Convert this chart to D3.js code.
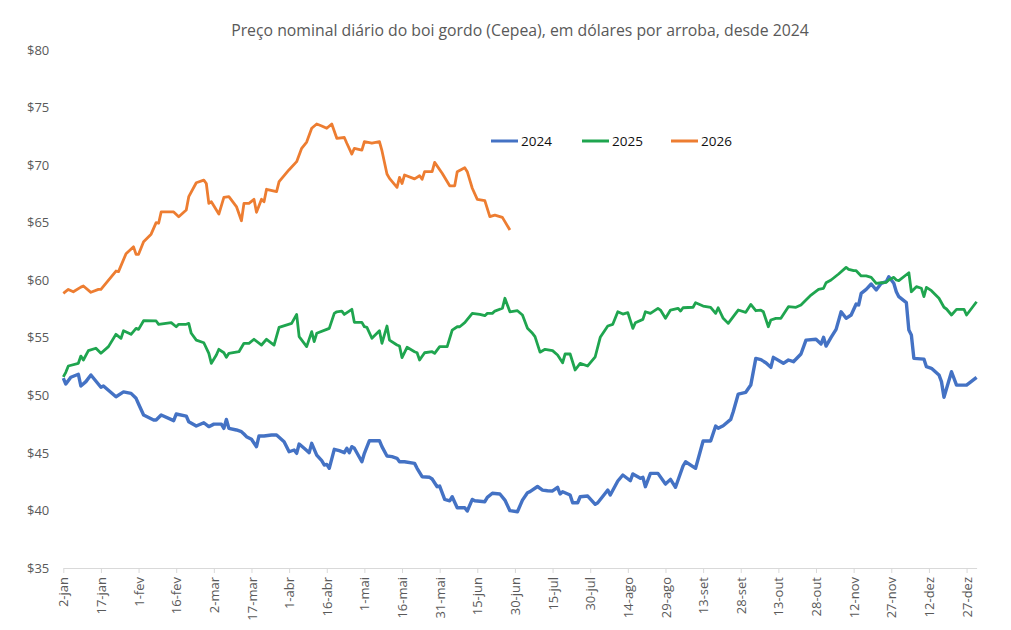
<!DOCTYPE html>
<html><head><meta charset="utf-8">
<script src="https://cdn.jsdelivr.net/npm/d3@7"></script>
<style>body{margin:0;background:#fff} svg{display:block}</style>
</head><body><svg id="c" width="1011" height="630"></svg>
<script>
const titulo = "Preço nominal diário do boi gordo (Cepea), em dólares por arroba, desde 2024";
const rotulosX = ["2-jan","17-jan","1-fev","16-fev","2-mar","17-mar","1-abr","16-abr","1-mai","16-mai","31-mai","15-jun","30-jun","15-jul","30-jul","14-ago","29-ago","13-set","28-set","13-out","28-out","12-nov","27-nov","12-dez","27-dez"];
const ticksY = [35,40,45,50,55,60,65,70,75,80];
const anos = ["2024","2025","2026"];
const cores = ["#4472C4","#1FA54F","#ED7D31"];

// dia = dias desde 2-jan
const dias2024 = [0,1,3,6,7,9,11,15,16,21,24,27,29,30,32,36,37,39,44,45,49,50,53,56,58,60,63,64,65,66,69,71,72,73,75,77,78,80,83,85,88,90,92,93,94,96,98,99,101,103,104,105,106,108,110,112,113,114,115,116,119,120,122,126,127,129,131,133,134,136,140,141,143,146,147,149,150,152,154,155,157,160,161,163,164,168,169,171,174,176,178,181,183,185,186,189,191,193,195,197,198,199,202,203,205,206,209,212,213,216,217,218,221,223,226,227,230,231,232,234,237,240,242,244,247,248,252,255,258,260,261,263,266,267,269,272,274,276,278,280,282,283,287,289,291,294,296,300,302,303,304,306,308,310,312,314,316,317,318,320,322,324,326,328,329,331,332,333,336,337,338,339,343,344,346,349,350,351,354,356,360,364];
const precos2024 = [51.5,50.98,51.57,51.83,50.81,51.19,51.77,50.7,50.81,49.88,50.3,50.17,49.74,49.25,48.29,47.86,47.86,48.29,47.8,48.38,48.2,47.71,47.33,47.62,47.28,47.5,47.5,47.13,47.91,47.13,46.99,46.84,46.64,46.41,46.18,45.54,46.47,46.47,46.55,46.55,45.97,45.1,45.25,44.96,45.77,45.4,45.02,45.83,44.81,44.32,43.95,44.0,43.66,45.31,45.19,45.02,45.4,45.02,45.54,45.4,44.23,44.96,46.06,46.06,45.54,44.73,44.67,44.53,44.23,44.23,44.09,43.66,42.93,42.88,42.73,42.06,42.12,40.96,40.84,41.19,40.24,40.24,39.95,40.96,40.84,40.76,41.14,41.49,41.43,40.9,39.98,39.89,40.9,41.54,41.63,42.08,41.77,41.71,41.69,42.01,41.43,41.63,41.34,40.67,40.67,41.19,41.25,40.53,40.67,41.49,41.77,41.34,42.56,43.08,42.58,43.17,42.79,42.88,42.06,43.22,43.22,42.29,42.7,42.01,43.86,44.23,43.66,46.03,46.03,47.33,47.13,47.36,47.91,48.58,50.11,50.26,50.89,53.21,53.1,52.83,52.43,53.3,52.78,53.07,52.92,53.59,54.8,54.87,54.46,55.04,54.28,55.04,55.73,57.26,56.69,56.98,57.93,57.85,58.86,59.21,59.67,59.15,59.73,59.87,60.3,59.73,59.0,58.57,58.05,55.67,55.24,53.21,53.15,52.49,52.35,51.77,51.19,49.83,52.05,50.89,50.89,51.56];

const dias2025 = [0,1,2,6,7,8,10,13,15,18,21,23,24,27,29,30,32,37,38,43,45,46,49,50,51,53,56,58,59,61,62,64,65,66,70,72,74,76,79,81,84,86,91,93,94,97,99,100,101,105,106,108,109,111,112,115,116,119,120,121,123,126,127,129,130,133,134,135,137,140,141,142,144,147,148,150,153,155,157,158,160,163,166,168,169,171,172,175,176,178,181,183,185,187,188,190,192,195,197,199,200,202,204,206,209,212,214,217,219,221,223,225,227,228,231,232,234,237,238,240,242,245,246,247,251,252,255,258,260,261,263,265,268,269,272,274,276,278,279,281,282,284,286,289,292,294,298,301,303,304,306,309,312,313,315,316,318,320,322,324,326,328,329,331,332,333,337,338,340,342,343,344,346,349,351,352,354,356,359,360,364];
const precos2025 = [51.6,52.0,52.55,52.78,53.41,53.07,53.88,54.09,53.65,54.23,55.3,54.95,55.61,55.3,55.82,55.73,56.48,56.46,56.17,56.31,55.96,56.17,56.17,56.25,55.39,54.8,54.57,53.65,52.78,53.5,54.0,53.7,53.3,53.65,53.79,54.52,54.52,54.87,54.37,54.87,54.37,55.91,56.25,57.03,55.1,54.23,55.53,54.66,55.39,55.73,55.82,57.12,57.26,57.32,57.03,57.47,56.34,56.34,55.96,55.91,54.96,55.61,54.52,56.02,54.8,54.37,54.28,53.27,54.17,53.79,53.7,53.07,53.7,53.79,53.65,54.23,54.23,55.67,55.96,55.96,56.31,57.12,57.03,56.92,57.12,57.12,57.32,57.56,58.43,57.26,57.35,56.98,55.82,55.39,55.1,53.75,54.0,53.88,53.5,52.83,53.59,53.59,52.2,52.78,52.55,53.35,55.04,56.02,56.17,57.26,57.06,57.18,55.82,56.31,56.6,57.26,57.12,57.56,57.41,56.69,57.41,57.56,57.32,57.61,57.65,58.05,57.76,57.65,57.12,57.61,56.69,56.25,57.12,57.41,57.21,57.9,57.35,57.41,57.26,55.96,56.54,56.69,56.69,57.7,57.65,57.85,58.71,59.21,59.3,59.78,60.02,60.54,61.12,60.95,60.83,60.83,60.37,60.37,60.25,59.73,59.78,59.82,60.02,60.25,60.02,59.96,60.65,59.0,59.44,59.3,58.57,59.38,59.09,58.43,57.65,57.5,56.98,57.47,57.47,56.98,58.13];

const dias2026 = [0,2,4,7,8,11,14,15,21,22,25,28,29,30,32,35,37,38,39,44,46,49,50,53,56,57,58,59,62,64,66,69,71,72,74,76,77,79,80,81,85,86,90,93,95,97,99,101,103,105,107,109,112,113,115,116,119,120,123,126,127,129,130,133,134,135,136,140,142,143,144,147,148,151,154,156,157,160,161,163,165,168,170,172,175,178];
const precos2026 = [58.86,59.2,59.0,59.4,59.5,58.95,59.2,59.2,60.8,60.75,62.3,62.9,62.25,62.25,63.35,64.0,65.0,64.95,65.93,65.93,65.52,66.1,67.26,68.47,68.7,68.4,66.68,66.82,65.75,67.2,67.26,66.4,65.17,66.68,66.68,67.03,65.9,67.03,66.82,67.9,67.7,68.56,69.6,70.3,71.46,72.0,73.2,73.57,73.4,73.2,73.57,72.33,72.4,71.9,70.96,71.46,71.3,72.03,71.9,72.03,71.25,69.23,68.85,68.07,68.94,68.4,69.14,68.8,69.08,68.77,69.43,69.43,70.24,69.29,68.2,68.2,69.43,69.78,69.43,67.99,67.03,66.91,65.52,65.66,65.46,64.36];

const series = [
  {nome: anos[0], cor: cores[0], w: 3.4, dias: dias2024, v: precos2024},
  {nome: anos[1], cor: cores[1], w: 2.8, dias: dias2025, v: precos2025},
  {nome: anos[2], cor: cores[2], w: 2.8, dias: dias2026, v: precos2026}
];

const svg = d3.select("#c");
const x = d3.scaleLinear().domain([0,364]).range([63.3,976.6]);
const y = d3.scaleLinear().domain([35,80]).range([568,50]);

svg.append("text").attr("x",520).attr("y",36).attr("text-anchor","middle")
  .attr("font-family","Open Sans").attr("font-size",15.8).attr("fill","#595959").text(titulo);

const gy = svg.append("g").attr("transform","translate(63.3,0)")
  .call(d3.axisLeft(y).tickValues(ticksY).tickFormat(d=>"$"+d).tickSize(0).tickPadding(14));
gy.select(".domain").remove();
gy.selectAll("text").attr("font-family","Open Sans").attr("font-size",13).attr("fill","#595959");

const gx = svg.append("g").attr("transform","translate(0,568)")
  .call(d3.axisBottom(x).tickValues(d3.range(0,361,15)).tickFormat((d,i)=>rotulosX[i]).tickSize(5).tickSizeOuter(0));
gx.select(".domain").attr("stroke","#d9d9d9");
gx.selectAll(".tick line").attr("stroke","#d9d9d9");
gx.selectAll("text").attr("font-family","Open Sans").attr("font-size",13).attr("fill","#595959")
  .attr("transform","rotate(-90)").attr("text-anchor","end").attr("x",-9).attr("y",0).attr("dy","0.35em");

const line = d3.line().x(d=>x(d[0])).y(d=>y(d[1]));
series.forEach(s=>{
  svg.append("path").datum(s.dias.map((d,i)=>[d,s.v[i]]))
    .attr("d",line).attr("fill","none").attr("stroke",s.cor).attr("stroke-width",s.w)
    .attr("stroke-linejoin","round");
});

const legX = [491,582,671];
series.forEach((s,i)=>{
  svg.append("line").attr("x1",legX[i]).attr("x2",legX[i]+27).attr("y1",141).attr("y2",141)
    .attr("stroke",s.cor).attr("stroke-width",3);
  svg.append("text").attr("x",legX[i]+30).attr("y",141).attr("dy","0.35em")
    .attr("font-family","Open Sans").attr("font-size",13.5).attr("fill","#111").text(s.nome);
});
</script></body></html>
